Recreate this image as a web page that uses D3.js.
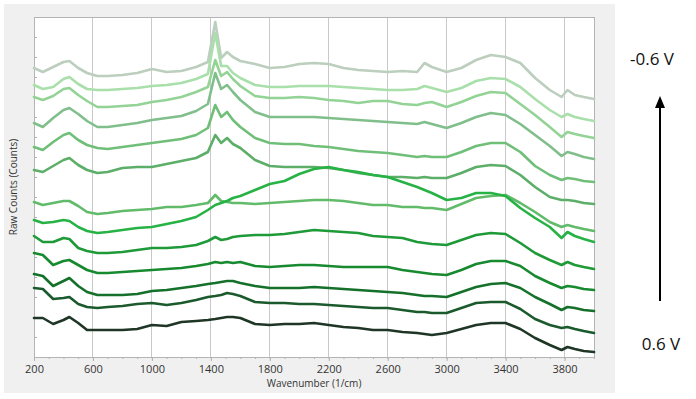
<!DOCTYPE html>
<html>
<head>
<meta charset="utf-8">
<script src="https://cdn.jsdelivr.net/npm/d3@7"></script>
<style>
html,body{margin:0;padding:0;background:#fff;}
svg{display:block;}
</style>
</head>
<body>
<svg id="chart" width="696" height="399"></svg>
<script>
// Wavenumber grid (1/cm)
const wavenumbers = [200,260,330,400,440,500,560,630,700,800,900,1000,1100,1200,1300,1380,1430,1470,1510,1550,1600,1700,1800,1900,2000,2100,2200,2300,2400,2500,2600,2700,2800,2850,2900,3000,3100,3200,3300,3400,3500,3600,3700,3780,3820,3870,3930,4000];

// Raw counts (arbitrary units, offset-stacked), top (-0.6 V) to bottom (0.6 V)
const s1  = [289,285,290,295,296,289,284,281,281,282,284,288,285,286,290,295,335,299,305,300,296,293,289,290,293,294,293,289,287,286,285,286,285,294,290,285,289,297,302,300,294,279,267,260,267,262,260,258];
const s2  = [272,268,270,278,280,273,268,267,267,268,269,271,272,274,278,283,324,291,291,284,279,272,270,270,271,271,271,270,269,268,267,267,268,271,269,265,269,276,279,278,270,258,247,240,243,240,238,236];
const s3  = [260,257,261,268,269,262,256,250,250,251,252,255,257,260,265,270,297,281,285,278,271,261,259,259,260,259,257,256,254,256,256,253,252,254,255,250,255,261,265,264,253,242,230,220,225,223,221,219];
const s4  = [234,230,239,247,249,243,236,230,230,232,234,237,239,241,246,253,284,268,272,265,257,245,240,240,240,240,239,238,237,236,235,234,233,235,233,229,234,240,244,242,233,222,211,201,205,203,200,198];
const s5  = [210,207,215,222,224,217,212,209,208,210,212,214,216,218,222,229,252,240,245,237,230,219,214,213,213,211,210,208,206,205,204,202,200,201,200,200,205,211,214,214,205,191,182,177,179,178,176,175];
const s6  = [187,185,191,197,199,192,187,184,185,189,190,190,193,196,199,205,222,214,219,213,209,197,191,190,190,190,189,187,184,182,180,180,179,180,179,179,184,190,192,191,182,170,160,157,157,156,154,153];
const s7  = [155,152,154,156,156,151,145,143,144,146,147,148,150,150,152,154,162,156,155,154,154,153,154,155,156,157,157,156,154,152,152,150,150,149,149,147,153,159,161,162,154,145,135,130,132,130,128,126];
const s8  = [137,134,135,137,136,130,126,124,125,127,129,130,133,136,140,147,152,154,156,159,161,167,173,176,183,188,190,187,185,182,180,175,170,167,164,157,159,164,164,161,149,139,130,119,125,121,118,115];
const s9  = [121,115,115,119,118,109,106,104,104,105,107,109,109,110,112,116,120,117,118,120,121,122,122,123,125,127,126,125,124,121,120,119,115,114,113,112,117,122,124,123,114,104,97,92,95,92,90,88];
const s10 = [104,102,92,96,97,92,87,84,84,85,86,87,88,89,91,93,95,94,95,94,95,91,90,91,92,92,91,90,90,90,90,87,85,84,83,82,87,93,96,96,91,81,74,69,71,70,68,67];
const s11 = [83,81,71,76,79,71,65,62,62,62,63,66,67,69,71,73,74,75,76,76,74,71,69,69,69,70,69,68,67,66,65,64,62,61,61,60,65,70,73,74,69,60,53,47,50,49,47,46];
const s12 = [69,68,58,59,60,53,50,49,50,51,53,54,52,54,57,60,61,62,64,63,61,55,54,54,53,53,52,51,50,49,49,47,45,45,44,44,49,54,55,55,48,38,32,29,30,28,26,24];
const s13 = [39,39,33,37,40,34,27,27,27,27,28,32,31,35,36,37,38,39,40,40,39,33,32,33,33,34,32,30,29,27,27,25,24,23,22,24,28,32,34,34,28,19,12,7,10,8,6,5];

const seriesList = [s1,s2,s3,s4,s5,s6,s7,s8,s9,s10,s11,s12,s13];
const colors = ["#bccebd","#a9dfaa","#93d395","#80bf8b","#70bf78","#5cae68","#62bb6a","#27b245","#1f9a38","#178a2f","#15702a","#1b5a2c","#1f3626"];

const xTicks = [200,600,1000,1400,1800,2200,2600,3000,3400,3800];
const xMinorTicks = d3.range(200, 4001, 100);
const yTicks = d3.range(20, 340, 20);

const labelTop = "-0.6 V";
const labelBottom = "0.6 V";

const svg = d3.select("#chart");
const plot = {left:34, right:594, top:17, bottom:357};

// panel background
svg.append("rect").attr("x",4).attr("y",4).attr("width",611).attr("height",389).attr("fill","#f0f0f0");
svg.append("rect").attr("x",plot.left).attr("y",plot.top).attr("width",plot.right-plot.left).attr("height",plot.bottom-plot.top).attr("fill","#ffffff");

const x = d3.scaleLinear().domain([200,4000]).range([plot.left, plot.right]);
const y = d3.scaleLinear().domain([0,340]).range([plot.bottom, plot.top]);

// vertical gridlines
svg.append("g").selectAll("line").data(xTicks.slice(1)).join("line")
  .attr("x1",d=>x(d)).attr("x2",d=>x(d)).attr("y1",plot.top).attr("y2",plot.bottom)
  .attr("stroke","#c9c9c9").attr("stroke-width",1).attr("shape-rendering","crispEdges");

// x axis
const xAxis = d3.axisBottom(x).tickValues(xTicks).tickSize(4).tickPadding(4).tickFormat(d3.format("d"));
const gx = svg.append("g").attr("transform",`translate(0,${plot.bottom})`).call(xAxis);
gx.select(".domain").remove();
gx.selectAll(".tick line").attr("stroke","#b0b0b0");
gx.selectAll("text").attr("font-family","'Open Sans', 'DejaVu Sans', sans-serif").attr("font-size","11px").attr("fill","#333");
const xMinor = d3.axisBottom(x).tickValues(xMinorTicks).tickSize(2).tickFormat("");
const gxm = svg.append("g").attr("transform",`translate(0,${plot.bottom})`).call(xMinor);
gxm.select(".domain").remove();
gxm.selectAll(".tick line").attr("stroke","#b0b0b0");

// y axis ticks (no labels)
const yAxis = d3.axisRight(y).tickValues(yTicks).tickSize(3).tickFormat("");
const gy = svg.append("g").attr("transform",`translate(${plot.left},0)`).call(yAxis);
gy.select(".domain").remove();
gy.selectAll(".tick line").attr("stroke","#b0b0b0");

// plot border
svg.append("rect").attr("x",plot.left+0.5).attr("y",plot.top+0.5).attr("width",plot.right-plot.left).attr("height",plot.bottom-plot.top)
  .attr("fill","none").attr("stroke","#b4b4b4").attr("stroke-width",1);

// spectra
const line = d3.line().x((d,i)=>x(wavenumbers[i])).y(d=>y(d)).curve(d3.curveLinear);
svg.append("g").selectAll("path").data(seriesList).join("path")
  .attr("d",d=>line(d)).attr("fill","none")
  .attr("stroke",(d,i)=>colors[i]).attr("stroke-width",2.6)
  .attr("stroke-linejoin","round").attr("stroke-linecap","round");

// axis titles
svg.append("text").attr("x",(plot.left+plot.right)/2).attr("y",387).attr("text-anchor","middle")
  .attr("font-family","'Open Sans', 'DejaVu Sans', sans-serif").attr("font-size","10px").attr("fill","#333")
  .text("Wavenumber (1/cm)");
svg.append("text").attr("transform","translate(17,187) rotate(-90)").attr("text-anchor","middle")
  .attr("font-family","'Open Sans', 'DejaVu Sans', sans-serif").attr("font-size","10px").attr("fill","#333")
  .text("Raw Counts (Counts)");

// potential annotation
svg.append("text").attr("x",652).attr("y",65).attr("text-anchor","middle")
  .attr("font-family","'Open Sans', 'DejaVu Sans', sans-serif").attr("font-size","17px").attr("fill","#111")
  .text(labelTop);
svg.append("text").attr("x",661).attr("y",350).attr("text-anchor","middle")
  .attr("font-family","'Open Sans', 'DejaVu Sans', sans-serif").attr("font-size","17px").attr("fill","#111")
  .text(labelBottom);
svg.append("line").attr("x1",660).attr("x2",660).attr("y1",301).attr("y2",105)
  .attr("stroke","#000").attr("stroke-width",2);
svg.append("path").attr("d","M660,96 L655,108 L665,108 Z").attr("fill","#000");
</script>
</body>
</html>
